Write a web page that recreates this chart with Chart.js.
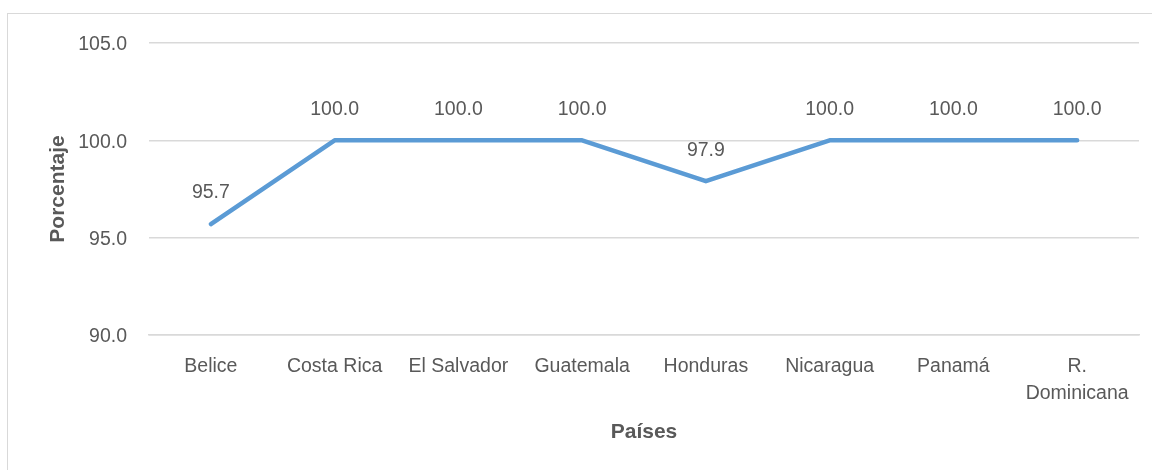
<!DOCTYPE html>
<html>
<head>
<meta charset="utf-8">
<script src="https://cdn.jsdelivr.net/npm/chart.js@4"></script>
<style>
  html, body { margin: 0; padding: 0; background: #fff; overflow: hidden; }
  #frame { position: absolute; left: 7px; top: 13px; width: 1160px; height: 470px; border: 1.5px solid #d9d9d9; }
  #chart { position: absolute; left: 0; top: 0; }
</style>
</head>
<body>
<div id="frame"></div>
<canvas id="chart" width="1152" height="470"></canvas>
<script>
const paises = ['Belice', 'Costa Rica', 'El Salvador', 'Guatemala', 'Honduras', 'Nicaragua', 'Panamá', ['R.', 'Dominicana']];
const porcentajes = [95.7, 100.0, 100.0, 100.0, 97.9, 100.0, 100.0, 100.0];
const yTicks = [90, 95, 100, 105];

const textColor = '#595959';
const fontFamily = '"Liberation Sans", Arial, sans-serif';

// Draw the value above each point
const pointLabels = {
    id: 'pointLabels',
    afterDatasetsDraw(chart) {
        const ctx = chart.ctx;
        const meta = chart.getDatasetMeta(0);
        ctx.save();
        ctx.font = '19.5px ' + fontFamily;
        ctx.fillStyle = textColor;
        ctx.textAlign = 'center';
        ctx.textBaseline = 'middle';
        meta.data.forEach((pt, i) => {
            ctx.fillText(porcentajes[i].toFixed(1), pt.x, pt.y - 31);
        });
        ctx.restore();
    }
};

new Chart(document.getElementById('chart'), {
    type: 'line',
    data: {
        labels: paises,
        datasets: [{
            data: porcentajes,
            borderColor: '#5b9bd5',
            borderWidth: 4.5,
            borderCapStyle: 'round',
            borderJoinStyle: 'round',
            pointRadius: 0,
            tension: 0,
            fill: false
        }]
    },
    options: {
        responsive: false,
        devicePixelRatio: 1,
        animation: false,
        layout: { padding: { top: 43, right: 13, left: 0, bottom: 0 } },
        plugins: {
            legend: { display: false },
            tooltip: { enabled: false }
        },
        scales: {
            x: {
                offset: true,
                afterFit: (scale) => { scale.height = 135; },
                grid: { display: false, drawTicks: false },
                border: { display: true, color: '#d9d9d9', width: 1.5 },
                ticks: {
                    color: textColor,
                    padding: 18,
                    maxRotation: 0,
                    autoSkip: false,
                    font: { family: fontFamily, size: 19.5, lineHeight: 1.4 }
                },
                title: {
                    display: true,
                    text: 'Países',
                    color: textColor,
                    padding: { top: 0, bottom: 25 },
                    font: { family: fontFamily, size: 21, weight: 'bold' }
                }
            },
            y: {
                min: 90,
                max: 105,
                afterFit: (scale) => { scale.width = 149; },
                afterBuildTicks: (scale) => { scale.ticks = yTicks.map(v => ({ value: v })); },
                grid: { color: '#d9d9d9', lineWidth: 1.5, drawTicks: false },
                border: { display: false },
                ticks: {
                    color: textColor,
                    padding: 22,
                    labelOffset: 2,
                    callback: (v) => Number(v).toFixed(1),
                    font: { family: fontFamily, size: 19.5 }
                },
                title: {
                    display: true,
                    text: 'Porcentaje',
                    color: textColor,
                    padding: { top: 46, bottom: 0 },
                    font: { family: fontFamily, size: 21, weight: 'bold' }
                }
            }
        }
    },
    plugins: [pointLabels]
});
</script>
</body>
</html>
